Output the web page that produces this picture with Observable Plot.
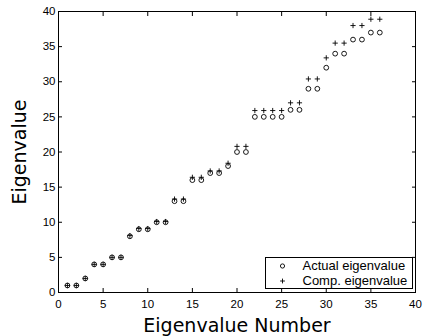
<!DOCTYPE html>
<html><head><meta charset="utf-8">
<script src="https://cdn.jsdelivr.net/npm/d3@7"></script>
<script src="https://cdn.jsdelivr.net/npm/@observablehq/plot@0.6"></script>
<style>html,body{margin:0;padding:0;background:#fff}</style>
</head><body><div id="chart"></div>
<script>
const eigenNumber = [1,2,3,4,5,6,7,8,9,10,11,12,13,14,15,16,17,18,19,20,21,22,23,24,25,26,27,28,29,30,31,32,33,34,35,36];
const actualEigenvalue = [1,1,2,4,4,5,5,8,9,9,10,10,13,13,16,16,17,17,18,20,20,25,25,25,25,26,26,29,29,32,34,34,36,36,37,37];
const compEigenvalue = [1,1,2,4,4,5,5,8.1,9.1,9.1,10.1,10.1,13.3,13.3,16.4,16.4,17.3,17.3,18.4,20.8,20.8,25.9,25.9,25.9,25.9,27,27,30.4,30.4,33.4,35.5,35.5,38,38,38.9,38.9];
const xTicks = [0,5,10,15,20,25,30,35,40];
const yTicks = [0,5,10,15,20,25,30,35,40];
const seriesNames = ["Actual eigenvalue", "Comp. eigenvalue"];
const xLabel = "Eigenvalue Number";
const yLabel = "Eigenvalue";

const rows = eigenNumber.map((n, i) => ({n, actual: actualEigenvalue[i], comp: compEigenvalue[i]}));

const thinPlus = {
  draw(context, size) {
    const r = Math.sqrt(size / Math.PI);
    context.moveTo(-r, 0); context.lineTo(r, 0);
    context.moveTo(0, -r); context.lineTo(0, r);
  }
};

const chart = Plot.plot({
  width: 424,
  height: 336,
  marginLeft: 58,
  marginRight: 9,
  marginTop: 11,
  marginBottom: 44,
  style: {fontFamily: "'Liberation Sans', Arial, sans-serif", fontSize: "11.5px", color: "black", background: "white"},
  x: {domain: [0, 40]},
  y: {domain: [0, 40]},
  marks: [
    Plot.axisX(xTicks, {anchor: "bottom", tickSize: -4, tickPadding: 11, label: null, fontSize: 11.5}),
    Plot.axisX(xTicks, {anchor: "top", tickSize: -4, text: null, label: null}),
    Plot.axisY(yTicks, {anchor: "left", tickSize: -4, tickPadding: 7, label: null, fontSize: 11.5}),
    Plot.axisY(yTicks, {anchor: "right", tickSize: -4, text: null, label: null}),
    Plot.dot(rows, {x: "n", y: "actual", r: 2.4, stroke: "black", strokeWidth: 0.9, symbol: "circle"}),
    Plot.dot(rows, {x: "n", y: "comp", r: 2.6, stroke: "black", strokeWidth: 0.9, fill: "none", symbol: thinPlus}),
    Plot.frame({stroke: "black", strokeWidth: 1}),
    Plot.frame({insetLeft: 207, insetRight: 3, insetTop: 246, insetBottom: 4, fill: "white", stroke: "black", strokeWidth: 1}),
    Plot.dot([seriesNames[0]], {frameAnchor: "bottom-right", dx: -133, dy: -26.5, r: 2.1, stroke: "black", strokeWidth: 0.9, symbol: "circle"}),
    Plot.dot([seriesNames[1]], {frameAnchor: "bottom-right", dx: -133, dy: -11.5, r: 2.4, stroke: "black", strokeWidth: 0.9, fill: "none", symbol: thinPlus}),
    Plot.text([seriesNames[0]], {frameAnchor: "bottom-right", dx: -113, dy: -26.5, text: d => d, textAnchor: "start", lineAnchor: "middle", fontSize: 13, fill: "black"}),
    Plot.text([seriesNames[1]], {frameAnchor: "bottom-right", dx: -113, dy: -11.5, text: d => d, textAnchor: "start", lineAnchor: "middle", fontSize: 13, fill: "black"}),
    Plot.text([xLabel], {frameAnchor: "bottom", dy: 33.5, text: d => d, textAnchor: "middle", lineAnchor: "middle", fontFamily: "'DejaVu Sans', sans-serif", fontSize: 19, fill: "black"}),
    Plot.text([yLabel], {frameAnchor: "left", dx: -39, rotate: -90, text: d => d, textAnchor: "middle", lineAnchor: "middle", fontFamily: "'DejaVu Sans', sans-serif", fontSize: 19, fill: "black"})
  ]
});
document.getElementById("chart").appendChild(chart);
</script>
</body></html>
